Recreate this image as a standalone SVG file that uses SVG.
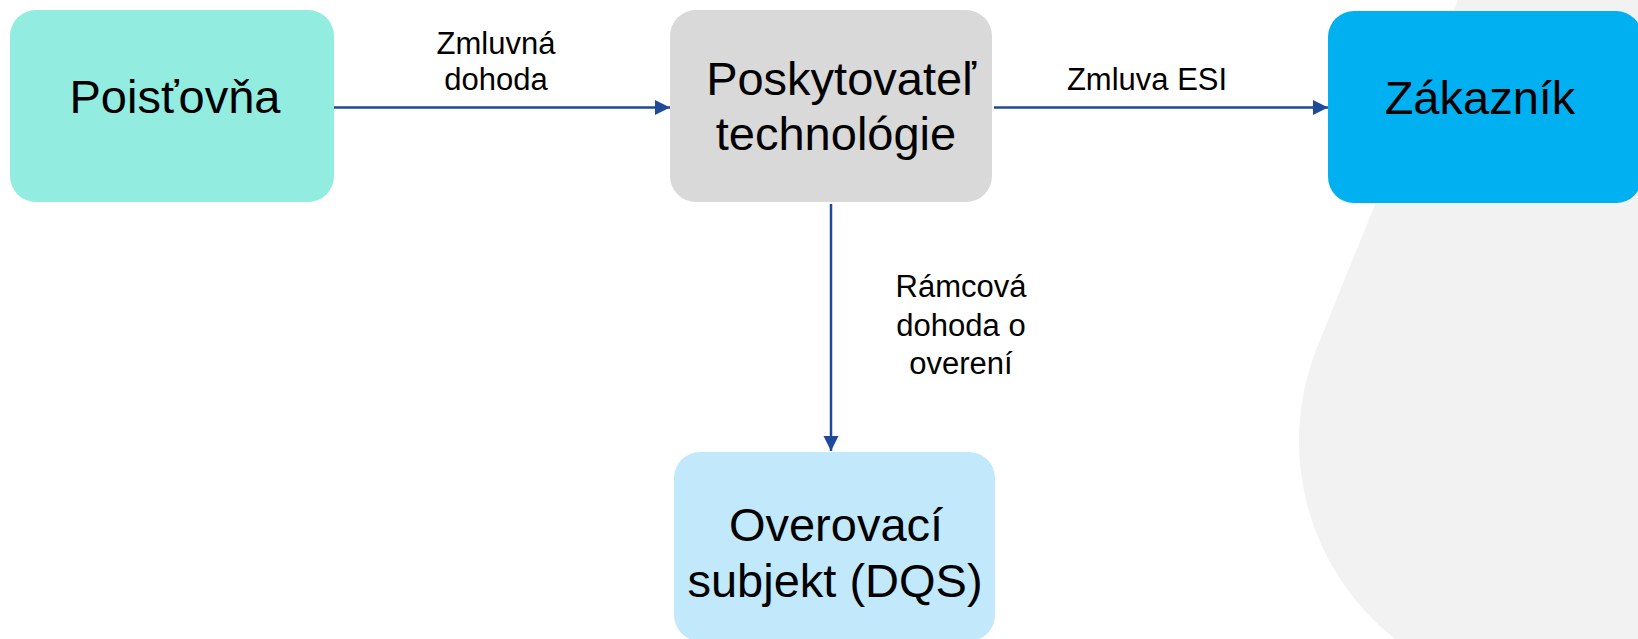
<svg xmlns="http://www.w3.org/2000/svg" width="1638" height="639" viewBox="0 0 1638 639">
<style>
.node-text{font-family:"Liberation Sans",Arial,sans-serif;font-size:47px;fill:#000;text-anchor:middle}
.label{font-family:"Liberation Sans",Arial,sans-serif;font-size:31px;fill:#000;text-anchor:middle}
.conn{stroke:#1F4A9A;stroke-width:2.5;fill:none;marker-end:url(#arr)}
</style>
<defs>
<marker id="arr" markerUnits="userSpaceOnUse" markerWidth="16" markerHeight="16" refX="15" refY="8" orient="auto">
<path d="M0,0.5 L15,8 L0,15.5 Z" fill="#1F4A9A"/>
</marker>
</defs>
<rect width="1638" height="639" fill="#FFFFFF"/>
<path id="bg-shape" d="M1458,0 L1316,350 A252,252 0 0 0 1395,639 L1638,639 L1638,0 Z" fill="#F2F2F2"/>
<g id="connectors">
<line class="conn" x1="334" y1="107.5" x2="670" y2="107.5"/>
<line class="conn" x1="994" y1="107.5" x2="1328" y2="107.5"/>
<line class="conn" x1="831" y1="204" x2="831" y2="451"/>
<text class="label" x="496" y="54">Zmluvná</text>
<text class="label" x="496" y="90">dohoda</text>
<text class="label" x="1147" y="90">Zmluva ESI</text>
<text class="label" x="961" y="297">Rámcová</text>
<text class="label" x="961" y="336">dohoda o</text>
<text class="label" x="961" y="374">overení</text>
</g>
<g id="node-poistovna">
<rect x="10" y="10" width="324" height="192" rx="26" fill="#92ECDF"/>
<text class="node-text" x="175" y="113">Poisťovňa</text>
</g>
<g id="node-poskytovatel">
<rect x="670" y="10" width="322" height="192" rx="26" fill="#D9D9D9"/>
<text class="node-text" x="841" y="95">Poskytovateľ</text>
<text class="node-text" x="836" y="150">technológie</text>
</g>
<g id="node-zakaznik">
<rect x="1328" y="11" width="314" height="192" rx="26" fill="#00B0F0"/>
<text class="node-text" x="1480" y="114">Zákazník</text>
</g>
<g id="node-overovaci">
<rect x="674" y="452" width="321" height="189" rx="26" fill="#C2E8FB"/>
<text class="node-text" x="836" y="541">Overovací</text>
<text class="node-text" x="835" y="597">subjekt (DQS)</text>
</g>
</svg>
